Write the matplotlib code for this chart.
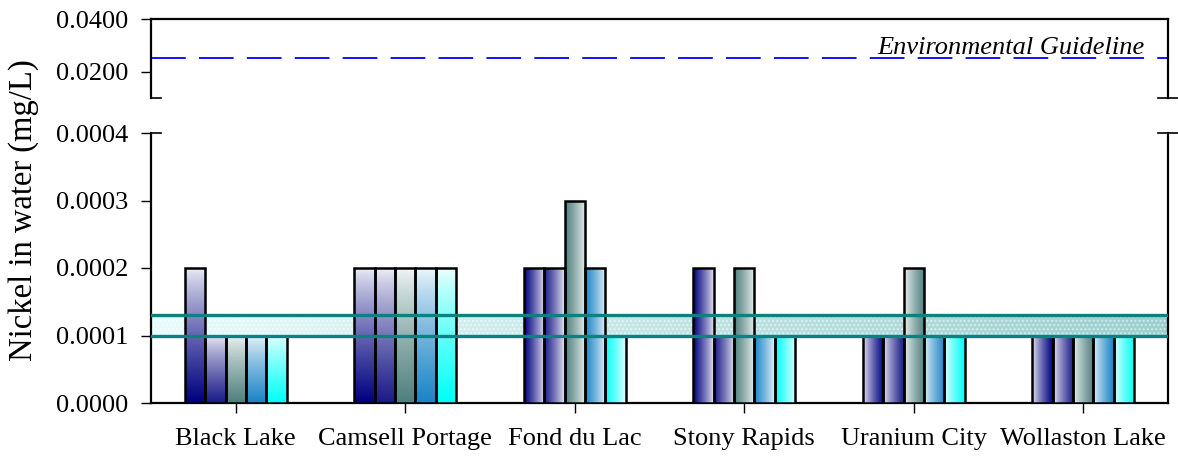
import numpy as np
import matplotlib
matplotlib.use("Agg")
import matplotlib.pyplot as plt
from matplotlib.colors import to_rgb
from matplotlib.lines import Line2D
from matplotlib.ticker import FormatStrFormatter

plt.rcParams['font.family'] = ['Liberation Serif', 'DejaVu Serif']
plt.rcParams['lines.scale_dashes'] = False

# data (mg/L)
sites = ["Black Lake", "Camsell Portage", "Fond du Lac",
         "Stony Rapids", "Uranium City", "Wollaston Lake"]
s1 = [0.0002, 0.0002, 0.0002, 0.0002, 0.0001, 0.0001]
s2 = [0.0001, 0.0002, 0.0002, 0.0001, 0.0001, 0.0001]
s3 = [0.0001, 0.0002, 0.0003, 0.0002, 0.0002, 0.0001]
s4 = [0.0001, 0.0002, 0.0002, 0.0001, 0.0001, 0.0001]
s5 = [0.0001, 0.0002, 0.0001, 0.0001, 0.0001, 0.0001]
series = [s1, s2, s3, s4, s5]
guideline = 0.025
band_lo, band_hi = 0.0001, 0.00013

dark = ['#000080', '#1a1a88', '#4f807e', '#1a84c6', '#00fff6']
# gradient direction per site: 'v' = light top/dark bottom,
# 'dl' = dark left -> light right, 'ld' = light left -> dark right
grad = ['v', 'v', 'dl', 'dl', 'ld', 'ld']

fig = plt.figure(figsize=(11.78, 4.59), dpi=100)
L, R = 151 / 1178, 1168 / 1178
ax_top = fig.add_axes([L, 1 - 98 / 459, R - L, (98 - 19) / 459])
ax = fig.add_axes([L, 1 - 403 / 459, R - L, (403 - 133) / 459])

n = len(series)
w = 0.12
x = np.arange(len(sites))


def ramp(c1, c2, steps=64, gamma=1.0):
    a, b = np.array(to_rgb(c1)), np.array(to_rgb(c2))
    t = np.linspace(0, 1, steps)[:, None] ** gamma
    return a * (1 - t) + b * t


for i, vals in enumerate(series):
    xs = x - w * (n - 1) / 2 + i * w
    bars = ax.bar(xs, vals, width=w, facecolor='none', edgecolor='black',
                  linewidth=1.8, zorder=4)
    c = np.array(to_rgb(dark[i]))
    cols = ramp(c + (1 - c) * 0.93, c, gamma=0.8)  # light -> dark
    for j, b in enumerate(bars):
        x0, h = b.get_x(), b.get_height()
        if grad[j] == 'v':
            img = cols[::-1][:, None, :]  # origin lower: dark at bottom
        elif grad[j] == 'dl':
            img = cols[::-1][None, :, :]
        else:
            img = cols[None, :, :]
        im = ax.imshow(img, extent=[x0, x0 + w, 0, h], aspect='auto',
                       origin='lower', zorder=3, interpolation='bilinear')
        im.set_clip_path(b)

# guideline band in lower panel
band = ramp('#e8fcfc', '#9ccfcf', 128)[None, :, :]
ax.imshow(band, extent=[-0.5, len(sites) - 0.5, band_lo, band_hi],
          aspect='auto', origin='lower', zorder=1, interpolation='bilinear')
ax.fill_between([-0.5, len(sites) - 0.5], band_lo, band_hi, facecolor='none',
                hatch='....', edgecolor=(1, 1, 1, 0.5), linewidth=0, zorder=2)
for yv in (band_lo, band_hi):
    ax.axhline(yv, color='#0a8282', linewidth=2.4, zorder=5)

ax.set_xlim(-0.5, len(sites) - 0.5)
ax.set_ylim(0, 0.0004)
ax.set_yticks([0, 0.0001, 0.0002, 0.0003, 0.0004])
ax.yaxis.set_major_formatter(FormatStrFormatter('%.4f'))
ax.set_xticks(x)
ax.set_xticklabels(sites)
ax.spines['top'].set_visible(False)
for s in ('left', 'right', 'bottom'):
    ax.spines[s].set_linewidth(1.6)
ax.tick_params(axis='y', direction='out', length=7.5, width=1, labelsize=19, pad=9)
ax.tick_params(axis='x', direction='out', length=7, width=1, labelsize=19, pad=11)

# upper panel
ax_top.axhline(guideline, color='#0000ff', linewidth=1.3, dashes=(25, 9.5))
ax_top.text(0.977, 0.0268, "Environmental Guideline", style='italic',
            fontsize=19, ha='right', va='baseline',
            transform=ax_top.get_yaxis_transform())
ax_top.set_xlim(-0.5, len(sites) - 0.5)
ax_top.set_ylim(0.01, 0.04)
ax_top.set_yticks([0.02, 0.04])
ax_top.yaxis.set_major_formatter(FormatStrFormatter('%.4f'))
ax_top.set_xticks([])
ax_top.spines['bottom'].set_visible(False)
for s in ('left', 'right', 'top'):
    ax_top.spines[s].set_linewidth(1.6)
ax_top.tick_params(axis='y', direction='out', length=7.5, width=1, labelsize=19, pad=9)

# break caps
cw = 10 / 1017
for a, yy in ((ax_top, 0), (ax, 1)):
    a.add_line(Line2D([0, cw], [yy, yy], transform=a.transAxes, color='black',
                      linewidth=1.2, clip_on=False))
    a.add_line(Line2D([1 - cw, 1 + cw], [yy, yy], transform=a.transAxes,
                      color='black', linewidth=1.2, clip_on=False))

fig.text(24 / 1178, 1 - 210 / 459, "Nickel in water (mg/L)", rotation=90,
         fontsize=23.5, ha='center', va='center')

fig.savefig('out.png', dpi=100)
